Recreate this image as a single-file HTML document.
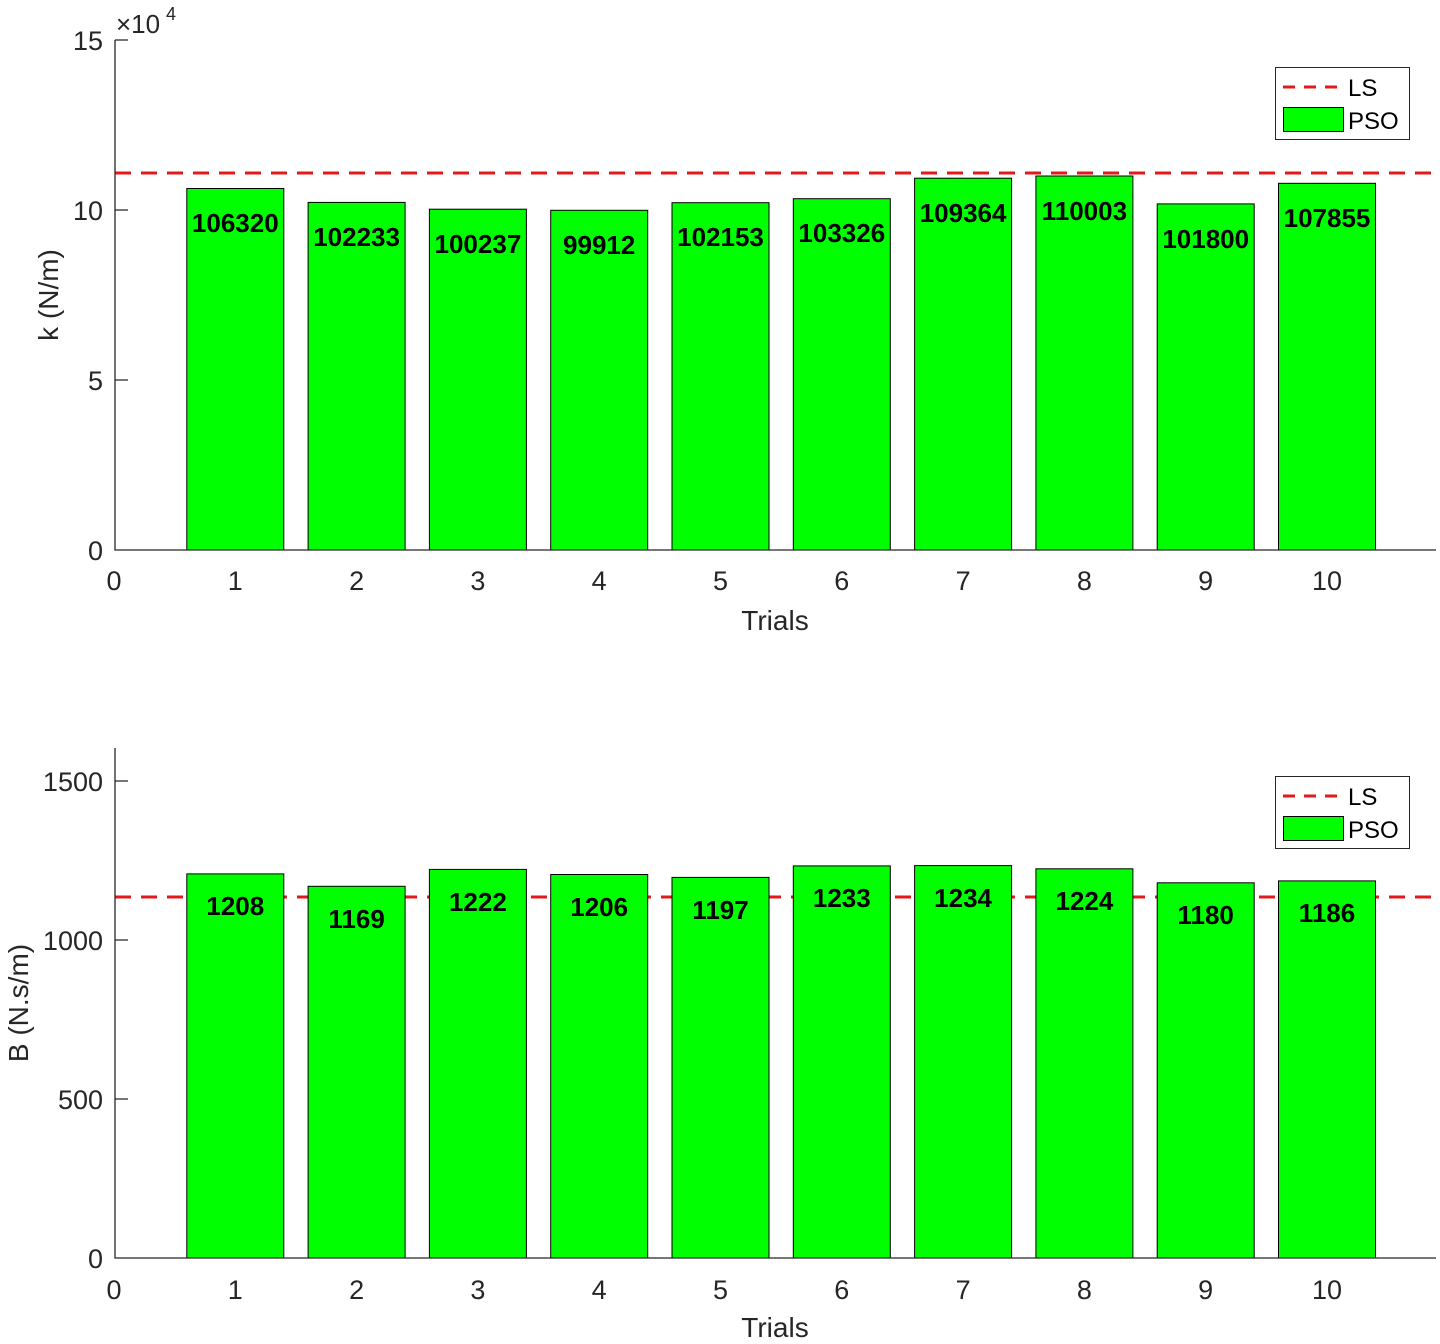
<!DOCTYPE html>
<html><head><meta charset="utf-8"><style>body{margin:0;background:#fff}svg{display:block}text{font-family:"Liberation Sans",Arial,sans-serif}</style></head><body>
<svg width="1440" height="1344" viewBox="0 0 1440 1344" xmlns="http://www.w3.org/2000/svg">
<g stroke="#e31a1c" stroke-width="3" stroke-dasharray="16,10">
<line x1="115" y1="173" x2="1440" y2="173"/>
<line x1="115" y1="897" x2="1440" y2="897"/>
</g>
<g stroke="#262626" stroke-width="1.3" fill="none">
<path d="M115 40 h13 M115 210 h13 M115 380 h13"/>
<path d="M115 781 h13 M115 940 h13 M115 1099 h13"/>
</g>
<g fill="#00ff00" stroke="#000" stroke-width="1">
<rect x="186.8" y="188.5" width="97" height="361.5"/>
<rect x="308.1" y="202.4" width="97" height="347.6"/>
<rect x="429.4" y="209.2" width="97" height="340.8"/>
<rect x="550.7" y="210.3" width="97" height="339.7"/>
<rect x="672" y="202.7" width="97" height="347.3"/>
<rect x="793.3" y="198.7" width="97" height="351.3"/>
<rect x="914.6" y="178.2" width="97" height="371.8"/>
<rect x="1035.9" y="176" width="97" height="374"/>
<rect x="1157.2" y="203.9" width="97" height="346.1"/>
<rect x="1278.5" y="183.3" width="97" height="366.7"/>
<rect x="186.8" y="873.9" width="97" height="384.1"/>
<rect x="308.1" y="886.3" width="97" height="371.7"/>
<rect x="429.4" y="869.4" width="97" height="388.6"/>
<rect x="550.7" y="874.5" width="97" height="383.5"/>
<rect x="672" y="877.4" width="97" height="380.6"/>
<rect x="793.3" y="865.9" width="97" height="392.1"/>
<rect x="914.6" y="865.6" width="97" height="392.4"/>
<rect x="1035.9" y="868.8" width="97" height="389.2"/>
<rect x="1157.2" y="882.8" width="97" height="375.2"/>
<rect x="1278.5" y="880.9" width="97" height="377.1"/>
</g>
<g stroke="#262626" stroke-width="1.3" fill="none">
<path d="M115 40 V550 H1436"/>
<path d="M115 748 V1258 H1436"/>
</g>
<g font-size="27" fill="#262626" text-anchor="end">
<text x="103" y="50">15</text><text x="103" y="220">10</text><text x="103" y="390">5</text><text x="103" y="560">0</text>
<text x="103" y="791">1500</text><text x="103" y="950">1000</text><text x="103" y="1109">500</text><text x="103" y="1268">0</text>
</g>
<text x="116" y="33" font-size="26" fill="#262626">×10</text><text x="166" y="20" font-size="18" fill="#262626">4</text>
<g font-size="27" fill="#262626" text-anchor="middle">
<text x="114" y="590">0</text><text x="235.3" y="590">1</text><text x="356.6" y="590">2</text><text x="477.9" y="590">3</text><text x="599.2" y="590">4</text><text x="720.5" y="590">5</text><text x="841.8" y="590">6</text><text x="963.1" y="590">7</text><text x="1084.4" y="590">8</text><text x="1205.7" y="590">9</text><text x="1327" y="590">10</text>
<text x="114" y="1299">0</text><text x="235.3" y="1299">1</text><text x="356.6" y="1299">2</text><text x="477.9" y="1299">3</text><text x="599.2" y="1299">4</text><text x="720.5" y="1299">5</text><text x="841.8" y="1299">6</text><text x="963.1" y="1299">7</text><text x="1084.4" y="1299">8</text><text x="1205.7" y="1299">9</text><text x="1327" y="1299">10</text>
<text x="775" y="630" font-size="28">Trials</text>
<text x="775" y="1337" font-size="28">Trials</text>
<text transform="translate(58,295) rotate(-90)" font-size="28">k (N/m)</text>
<text transform="translate(28,1003) rotate(-90)" font-size="28">B (N.s/m)</text>
</g>
<g font-size="26" font-weight="bold" fill="#000" text-anchor="middle">
<text x="235.3" y="232">106320</text><text x="356.6" y="246">102233</text><text x="477.9" y="253">100237</text><text x="599.2" y="254">99912</text><text x="720.5" y="246">102153</text><text x="841.8" y="242">103326</text><text x="963.1" y="222">109364</text><text x="1084.4" y="220">110003</text><text x="1205.7" y="248">101800</text><text x="1327" y="227">107855</text>
<text x="235.3" y="915">1208</text><text x="356.6" y="928">1169</text><text x="477.9" y="911">1222</text><text x="599.2" y="916">1206</text><text x="720.5" y="919">1197</text><text x="841.8" y="907">1233</text><text x="963.1" y="907">1234</text><text x="1084.4" y="910">1224</text><text x="1205.7" y="924">1180</text><text x="1327" y="922">1186</text>
</g>
<g>
<rect x="1275.5" y="67.5" width="134" height="72" fill="#fff" stroke="#262626" stroke-width="1"/>
<line x1="1283" y1="87" x2="1344" y2="87" stroke="#e31a1c" stroke-width="3" stroke-dasharray="12,9"/>
<rect x="1283.5" y="107.5" width="60" height="24" fill="#00ff00" stroke="#000"/>
<text x="1348" y="96" font-size="24" fill="#000">LS</text><text x="1348" y="129" font-size="24" fill="#000">PSO</text>
<rect x="1275.5" y="776.5" width="134" height="72" fill="#fff" stroke="#262626" stroke-width="1"/>
<line x1="1283" y1="796" x2="1344" y2="796" stroke="#e31a1c" stroke-width="3" stroke-dasharray="12,9"/>
<rect x="1283.5" y="816.5" width="60" height="24" fill="#00ff00" stroke="#000"/>
<text x="1348" y="805" font-size="24" fill="#000">LS</text><text x="1348" y="838" font-size="24" fill="#000">PSO</text>
</g>
</svg>
</body></html>
